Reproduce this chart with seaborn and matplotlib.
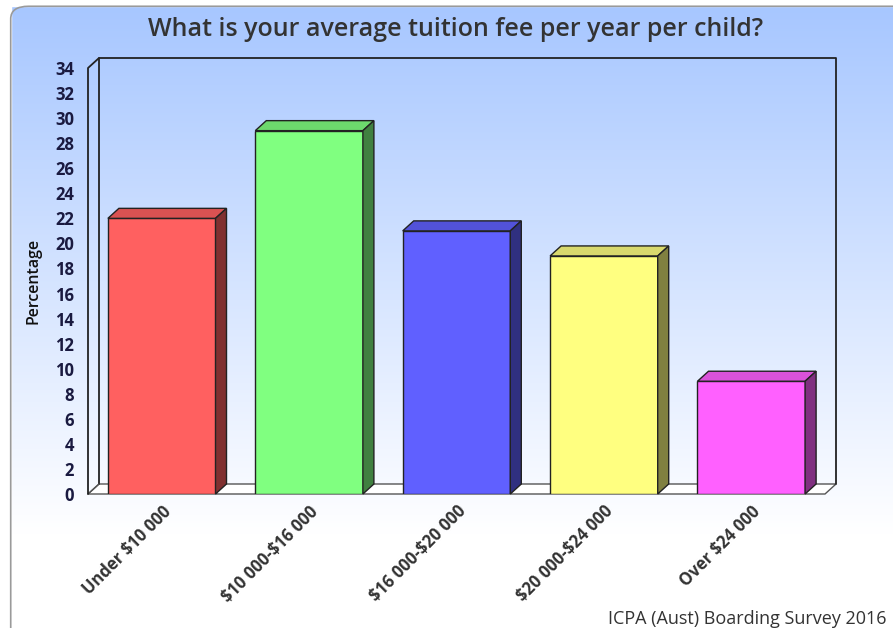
import numpy as np
import pandas as pd
import matplotlib.pyplot as plt
import seaborn as sns
from matplotlib.patches import Polygon, FancyBboxPatch
from matplotlib.colors import to_rgb

categories = ["Under $10 000", "$10 000-$16 000", "$16 000-$20 000", "$20 000-$24 000", "Over $24 000"]
values = [22, 29, 21, 19, 9]
front_colors = ["#ff6060", "#80ff80", "#6060ff", "#ffff80", "#ff60ff"]
yticks = list(range(0, 35, 2))

df = pd.DataFrame({"fee": categories, "pct": values})

sns.set_style("white")
plt.rcParams["font.family"] = ["Open Sans", "DejaVu Sans"]
plt.rcParams["text.parse_math"] = False

fig = plt.figure(figsize=(8.93, 6.28), dpi=100)

# background gradient + rounded frame
bg = fig.add_axes([0, 0, 1, 1], zorder=-10)
grad = np.linspace(0, 1, 256).reshape(-1, 1)
top = np.array(to_rgb("#a6c6ff"))
bottom = np.array([1.0, 1.0, 1.0])
t = np.clip(grad / 0.85, 0, 1)
img = top * (1 - t)[..., None] + bottom * t[..., None]
img = img.reshape(256, 1, 3)
bg.imshow(img, aspect="auto", extent=[0, 1, 0, 1], origin="upper")
bg.add_patch(FancyBboxPatch((0.012, -0.05), 1.2, 1.04, boxstyle="round,pad=0,rounding_size=0.02",
                            transform=bg.transAxes, fill=False, edgecolor="#9a9a9a", lw=1.2))
bg.set_xlim(0, 1)
bg.set_ylim(0, 1)
bg.axis("off")
# mask outside the rounded frame with white
bg.fill_between([0, 0.012], 0, 1, color="white", zorder=0.5)
bg.fill_between([0, 1], 0.99, 1, color="white", zorder=0.5)

ax = fig.add_axes([88 / 893, 1 - 494 / 628, (825 - 88) / 893, (494 - 68) / 628])
ax.set_facecolor("none")

sns.barplot(data=df, x="fee", y="pct", hue="fee", palette=front_colors, legend=False,
            width=0.73, edgecolor="#222222", linewidth=1, saturation=1, ax=ax, zorder=3)

ax.set_xlim(-0.5, 4.5)
ax.set_ylim(0, 34)

# 3D depth offsets (pixels -> data)
dx = 11 / 737 * 5
dy = 10 / 426 * 34

# back wall, floor and side wall outlines
ec = "#222222"
floor = Polygon([(-0.5, 0), (4.5, 0), (4.5 + dx, dy), (-0.5 + dx, dy)], closed=True,
                facecolor="white", edgecolor="#555555", lw=1, clip_on=False, zorder=1)
ax.add_patch(floor)
ax.plot([-0.5 + dx, -0.5 + dx, 4.5 + dx, 4.5 + dx], [dy, 34 + dy, 34 + dy, dy],
        color=ec, lw=1.3, clip_on=False, zorder=1)
ax.plot([-0.5, -0.5, -0.5 + dx], [0, 34, 34 + dy], color=ec, lw=1.3, clip_on=False, zorder=4)
ax.plot([-0.5, -0.5 + dx], [0, dy], color="#555555", lw=1, clip_on=False, zorder=2)

bars = list(ax.patches)[:len(values)]
for bar, col in zip(bars, front_colors):
    x0 = bar.get_x()
    w = bar.get_width()
    h = bar.get_height()
    rgb = np.array(to_rgb(col))
    top_face = Polygon([(x0, h), (x0 + w, h), (x0 + w + dx, h + dy), (x0 + dx, h + dy)], closed=True,
                       facecolor=rgb * 0.85, edgecolor="#222222", lw=1, clip_on=False, zorder=3)
    side_face = Polygon([(x0 + w, 0), (x0 + w + dx, dy), (x0 + w + dx, h + dy), (x0 + w, h)], closed=True,
                        facecolor=rgb * 0.5, edgecolor="#222222", lw=1, clip_on=False, zorder=3)
    ax.add_patch(top_face)
    ax.add_patch(side_face)

ax.set_yticks(yticks)
ax.set_yticklabels([str(v) for v in yticks], fontsize=12, fontweight="bold", color="#1a1a40")
ax.set_xticks(range(len(categories)))
ax.set_xticklabels(categories, rotation=45, ha="right", rotation_mode="anchor",
                   fontsize=12, fontweight="bold", color="#333333")
ax.tick_params(axis="y", length=0, pad=10)
ax.tick_params(axis="x", length=0, pad=6)
for s in ax.spines.values():
    s.set_visible(False)
ax.set_xlabel("")
ax.set_ylabel("Percentage", fontsize=11.5, fontweight="semibold", color="#111111", labelpad=10)

fig.text(0.51, 0.953, "What is your average tuition fee per year per child?", ha="center", va="center",
         fontsize=18, fontweight="semibold", color="#333333")
fig.text(0.993, 0.0, "ICPA (Aust) Boarding Survey 2016", ha="right", va="bottom",
         fontsize=13, color="#333333")

fig.savefig("out.png", dpi=100)
